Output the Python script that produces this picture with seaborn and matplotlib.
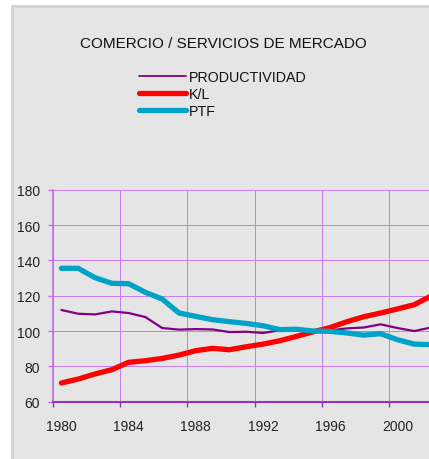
import numpy as np
import pandas as pd
import seaborn as sns
import matplotlib
matplotlib.use("Agg")
import matplotlib.pyplot as plt
from matplotlib.patches import Rectangle
from matplotlib.lines import Line2D
from matplotlib.ticker import FixedLocator, NullFormatter, FixedFormatter

years = list(range(1980, 2003))
productividad = [111.9, 109.8, 109.4, 111.1, 110.2, 107.9, 101.7, 100.8, 101.1, 100.9,
                 99.4, 99.6, 98.9, 100.4, 100.4, 100.0, 100.4, 101.5, 102.0, 103.8,
                 101.7, 100.0, 102.0]
kl = [70.6, 72.8, 75.7, 78.1, 82.3, 83.2, 84.5, 86.4, 88.9, 90.2,
      89.4, 91.1, 92.6, 94.5, 97.0, 99.6, 102.0, 105.3, 108.1, 110.2,
      112.5, 114.9, 119.8]
ptf = [135.5, 135.5, 130.2, 127.0, 126.8, 121.9, 118.1, 110.2, 108.3, 106.4,
       105.3, 104.3, 103.0, 100.8, 101.0, 100.0, 99.8, 98.9, 97.7, 98.5,
       95.1, 92.6, 92.3]
series_names = ["PRODUCTIVIDAD", "K/L", "PTF"]
title = "COMERCIO / SERVICIOS DE MERCADO"
x_tick_labels = ["1980", "1984", "1988", "1992", "1996", "2000"]
y_ticks = [60, 80, 100, 120, 140, 160, 180]

colors = {"PRODUCTIVIDAD": "#800080", "K/L": "#ff0000", "PTF": "#00a2c8"}
widths = {"PRODUCTIVIDAD": 1.6, "K/L": 3.8, "PTF": 3.8}

df = pd.DataFrame({"year": years * 3,
                   "value": productividad + kl + ptf,
                   "serie": [s for s in series_names for _ in years]})

sns.set_theme(style="white")
plt.rcParams["font.family"] = ["Liberation Sans", "DejaVu Sans"]

W, H = 429, 460
fig = plt.figure(figsize=(W / 100, H / 100), dpi=100)
fig.patch.set_facecolor("white")
fig.patches.append(Rectangle((12 / W, -0.1), 1, (H - 7) / H + 0.1, transform=fig.transFigure,
                             facecolor="#e5e5e5", edgecolor="#d2d2d2", linewidth=2.0,
                             zorder=-5))

left = 53 / W
bottom = (H - 402.7) / H
height = (402.7 - 190.7) / H
width = 24 * 16.8 / W
ax = fig.add_axes([left, bottom, width, height])
ax.set_facecolor("none")
ax.set_zorder(2)

for s in series_names:
    sub = df[df["serie"] == s]
    sns.lineplot(data=sub, x="year", y="value", ax=ax, color=colors[s],
                 linewidth=widths[s], legend=False, zorder=3,
                 solid_capstyle="round", solid_joinstyle="round")

ax.set_xlim(1979.5, 2003.5)
ax.set_ylim(60, 180)
ax.set_xlabel("")
ax.set_ylabel("")

grid_c = "#c67cf2"
major_x = [1979.5 + 4 * i for i in range(7)]
ax.xaxis.set_major_locator(FixedLocator(major_x))
ax.xaxis.set_major_formatter(NullFormatter())
ax.xaxis.set_minor_locator(FixedLocator([int(t) for t in x_tick_labels]))
ax.xaxis.set_minor_formatter(FixedFormatter(x_tick_labels))
ax.set_yticks(y_ticks)
ax.set_yticklabels([str(v) for v in y_ticks])

ax.grid(True, which="major", color=grid_c, linewidth=0.72, snap=True)
ax.tick_params(axis="x", which="major", direction="out", length=3.5, width=1.0,
               color="#9a30c0", bottom=True)
ax.tick_params(axis="x", which="minor", length=0, pad=12.5, labelsize=10,
               labelcolor="#222222")
ax.tick_params(axis="y", which="major", direction="out", length=3.5, width=1.0,
               color="#c070f0", left=True, pad=6, labelsize=10, labelcolor="#222222")

for side in ["top", "right"]:
    ax.spines[side].set_visible(False)
ax.spines["left"].set_color("#c070f0")
ax.spines["left"].set_linewidth(1.2)
ax.spines["bottom"].set_color("#9a30c0")
ax.spines["bottom"].set_linewidth(1.5)

fig.text(223 / W, 1 - 43.5 / H, title, ha="center", va="center", fontsize=11,
         color="#111111")

handles = [Line2D([0], [0], color=colors[s], linewidth=widths[s] * (0.8 if s == "PRODUCTIVIDAD" else 1.0),
                  solid_capstyle="round") for s in series_names]
leg = fig.legend(handles, series_names, loc="upper left",
                 bbox_to_anchor=(139 / W, 1 - 71 / H), frameon=False,
                 fontsize=10.3, handlelength=3.3, handletextpad=0.2,
                 labelspacing=0.2, borderpad=0, borderaxespad=0)
for t in leg.get_texts():
    t.set_color("#111111")

fig.savefig("out.png", dpi=100, facecolor=fig.get_facecolor())
